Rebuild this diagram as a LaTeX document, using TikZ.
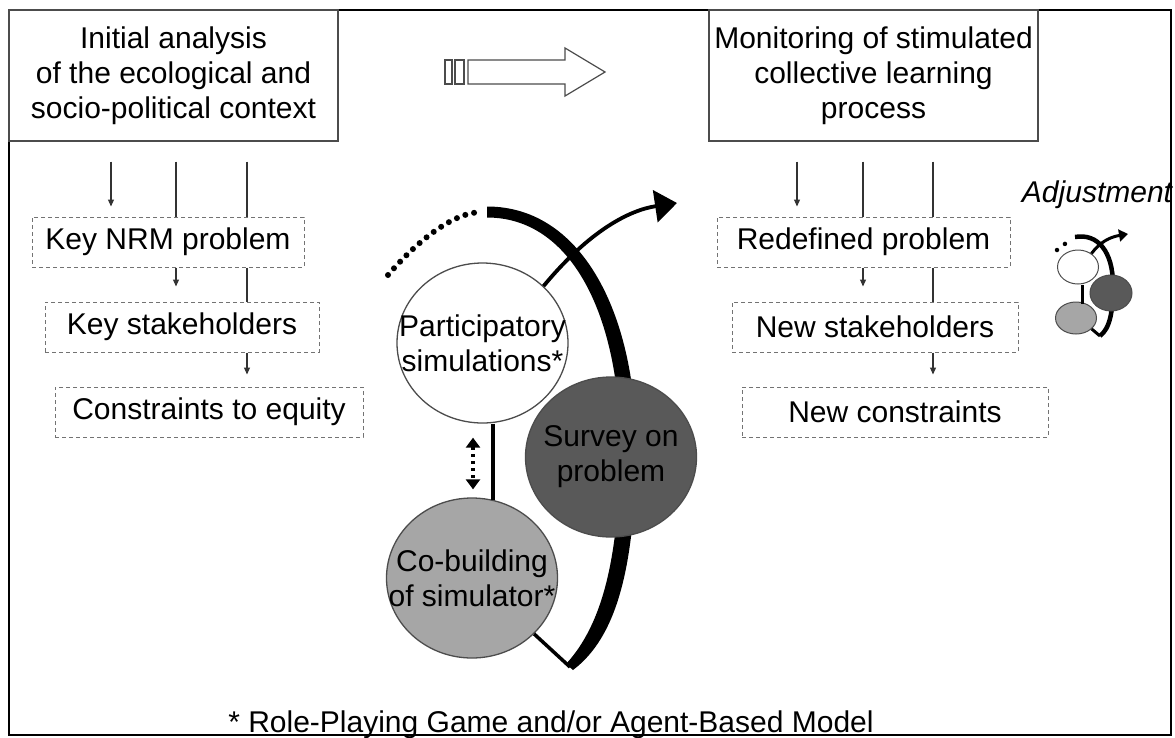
\documentclass[tikz,border=0pt]{standalone}
\usepackage{fontspec}
\setmainfont{Liberation Sans}
\usetikzlibrary{arrows.meta,shapes.geometric}

\begin{document}
\begin{tikzpicture}[x=1pt,y=-1pt,
	font=\fontsize{30}{35}\selectfont,
	title box/.style={rectangle,draw=black!70,line width=1.3pt,align=center,minimum width=329pt,minimum height=131pt,inner sep=0pt},
	task box/.style={rectangle,draw=black!55,line width=1pt,dash pattern=on 4pt off 3pt,minimum height=50pt,inner sep=0pt},
	flow/.style={draw=black!80,line width=1.2pt},
	flow tip/.style={flow,-{Triangle[length=7pt,width=6pt]}},
	phase node/.style={ellipse,draw=black!70,line width=1.3pt,minimum width=171pt,minimum height=160pt,inner xsep=-40pt,inner ysep=-25pt,align=center},
	mini node/.style={ellipse,draw=black!70,line width=1pt,minimum width=41pt,minimum height=34pt,inner sep=0pt},
	cycle line/.style={line width=3.5pt},
	exit arrow/.style={line width=3.8pt,-{Triangle[length=22pt,width=32pt]}},
	lead dots/.style={line width=6pt,line cap=round,dash pattern=on 0pt off 9pt},
	swap arrow/.style={line width=4pt,dash pattern=on 3pt off 4pt,{Triangle[length=10pt,width=14pt]}-{Triangle[length=10pt,width=14pt]}}
]

	\useasboundingbox (0,0) rectangle (1175,737);
	\draw[line width=1.5pt] (9,10) rectangle (1171,735);

	% header boxes
	\node[title box] (initial) at (173.5,75.5) {Initial analysis\\of the ecological and\\socio-political context};
	\node[title box] (monitor) at (873.5,75.5) {Monitoring of stimulated\\collective learning\\process};

	% hollow arrow
	\draw[draw=black!70,line width=1.2pt,fill=white] (468,60) -- (565,60) -- (565,48) -- (605,72) -- (565,96) -- (565,84) -- (468,84) -- cycle;
	\draw[draw=black!70,line width=1.2pt] (445,60) rectangle (452,84) (455,60) rectangle (464,84);

	\node[task box,minimum width=272pt] (nrm) at (168,242) {Key NRM problem};
	\node[task box,minimum width=274pt] (stake) at (182,327) {Key stakeholders};
	\node[task box,minimum width=308pt] (constr) at (209,412) {Constraints to equity};
	\node[task box,minimum width=293pt] (redef) at (863.5,242) {Redefined problem};
	\node[task box,minimum width=286pt] (newstake) at (875,327) {New stakeholders};
	\node[task box,minimum width=306pt] (newconstr) at (895,412) {New constraints};

	\foreach \colhead/\colone/\coltwo/\colthree/\xa/\xb/\xc in {initial/nrm/stake/constr/111/176/247,monitor/redef/newstake/newconstr/797/863/933} {
		\coordinate (ca) at (\xa,0);
		\coordinate (cb) at (\xb,0);
		\coordinate (cc) at (\xc,0);
		\draw[flow tip,shorten <=20pt,shorten >=10pt] (\colhead.south -| ca) -- (\colone.north -| ca);
		\draw[flow,shorten <=20pt] (\colhead.south -| cb) -- (\colone.north -| cb);
		\draw[flow,shorten <=20pt] (\colhead.south -| cc) -- (\colone.north -| cc);
		\draw[flow tip,shorten >=15pt] (\colone.south -| cb) -- (\coltwo.north -| cb);
		\draw[flow] (\colone.south -| cc) -- (\coltwo.north -| cc);
		\draw[flow tip,shorten >=12pt] (\coltwo.south -| cc) -- (\colthree.north -| cc);
	}

	% cycle
	\fill (487,206.5) .. controls (585,206.5) and (637,320) .. (636,450) .. controls (635,566) and (617,637) .. (573,670) -- (566,664) .. controls (603,624) and (619,556) .. (620,450) .. controls (621,325) and (576,217.5) .. (487,217.5) -- cycle;
	\draw[lead dots] (388,275) .. controls (420,238) and (455,212) .. (482,212);
	\coordinate (tip) at (570,667);
	\coordinate (out) at (677,203);
	\coordinate (vl) at (493,0);
	\coordinate (sw) at (473,0);

	\node[phase node,fill=white] (part) at (482.5,343) {Participatory\\simulations*};
	\node[phase node,fill=black!65] (survey) at (611,457) {Survey on\\problem};
	\node[phase node,fill=black!35] (cob) at (472,578) {Co-building\\of simulator*};

	\draw[exit arrow] (part.43) .. controls (590,230) and (630,210) .. (out);
	\draw[cycle line] (tip) -- (cob.-42);
	\draw[cycle line,shorten >=-3pt] (part.south -| vl) -- (cob.north -| vl);
	\draw[swap arrow,shorten <=14pt,shorten >=8pt] (part.south -| sw) -- (cob.north -| sw);

	% adjustment icon
	\node[font=\fontsize{30}{35}\selectfont\itshape] (adj) at (1097,195) {Adjustment};
	\draw[line width=4.5pt] (1075,237) .. controls (1098,233) and (1113,252) .. (1113,285) .. controls (1113,312) and (1110,328) .. (1100,336);
	\draw[line width=4.5pt,line cap=round,dash pattern=on 0pt off 10pt] (1057,250) -- (1070,240);
	\coordinate (mtip) at (1100,336);
	\coordinate (mout) at (1128,234);
	\coordinate (ml) at (1082,0);
	\node[mini node,fill=white] (ia) at (1078,267) {};
	\node[mini node,fill=black!65,minimum width=42pt,minimum height=36pt] (ib) at (1111,293) {};
	\node[mini node,fill=black!35,minimum height=32pt] (ic) at (1076,318) {};
	\draw[line width=3pt,-{Triangle[length=9pt,width=12pt]}] (ia.45) .. controls (1100,242) and (1110,237) .. (mout);
	\draw[line width=3pt] (mtip) -- (ic.-35);
	\draw[line width=3pt,shorten >=-2pt] (ia.south -| ml) -- (ic.north -| ml);

	\node[anchor=base] (note) at (551,732) {* Role-Playing Game and/or Agent-Based Model};
\end{tikzpicture}
\end{document}
